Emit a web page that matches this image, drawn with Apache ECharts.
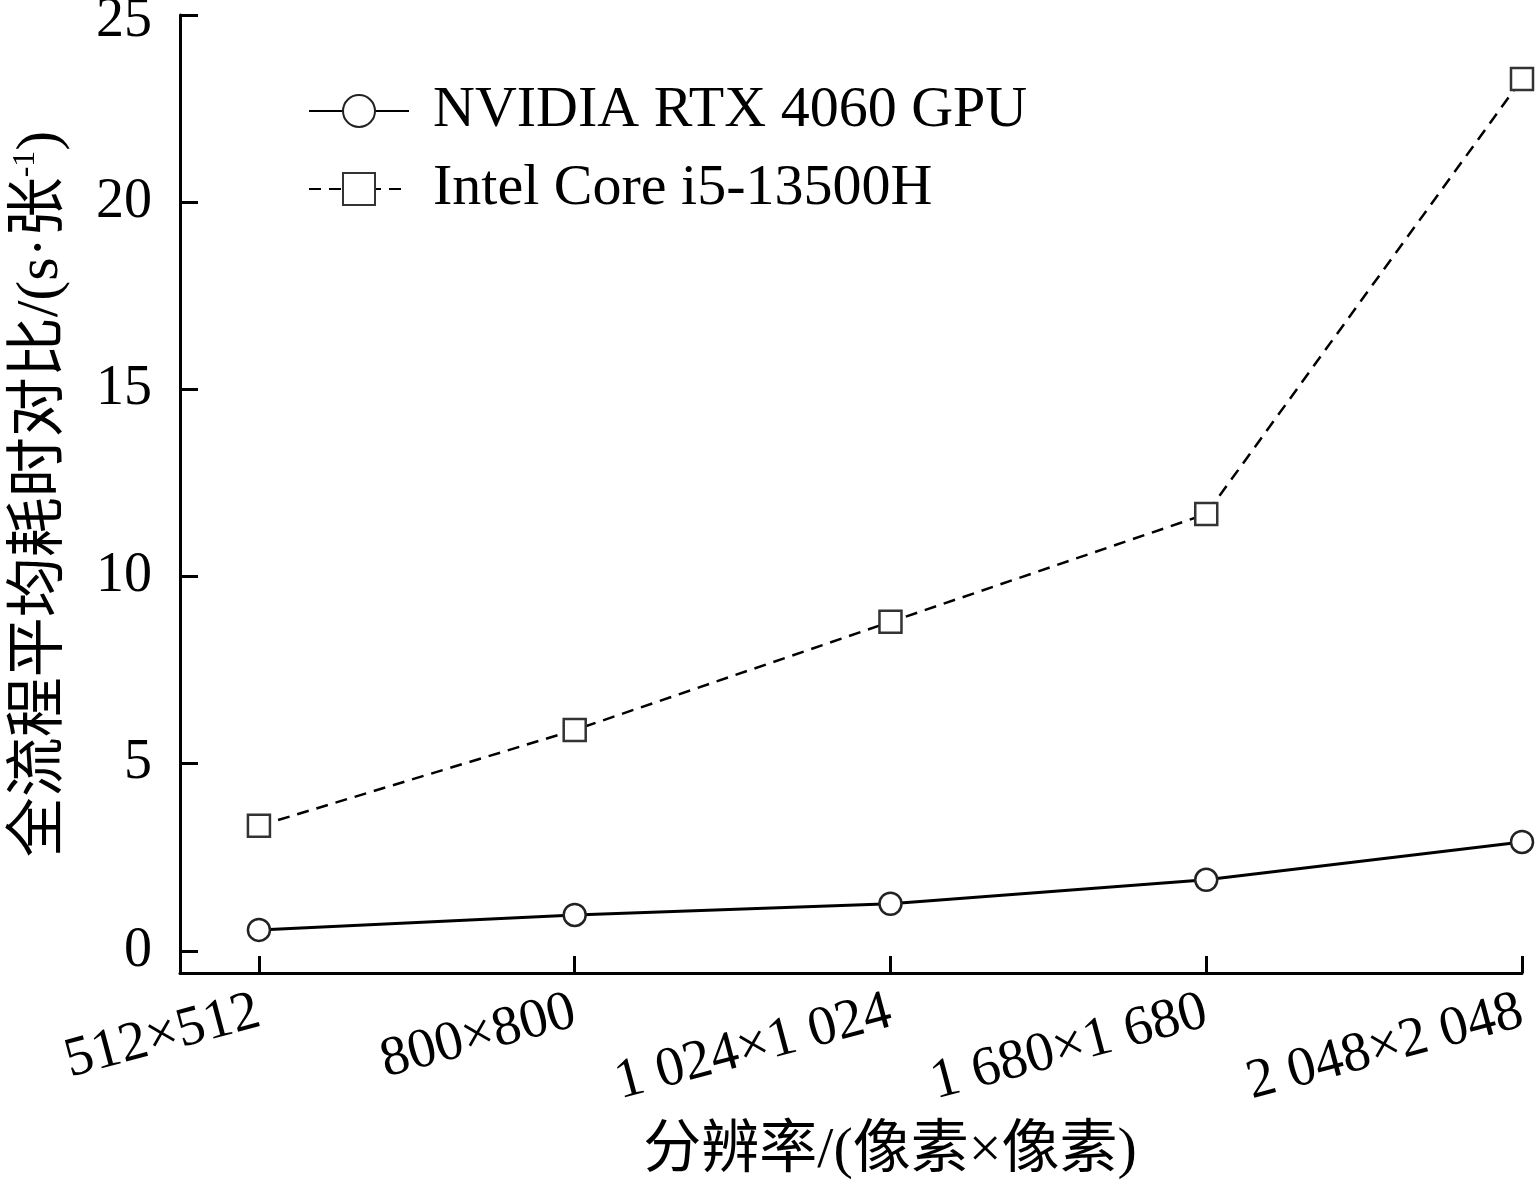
<!DOCTYPE html>
<html>
<head>
<meta charset="utf-8">
<script src="https://cdn.jsdelivr.net/npm/echarts@6/dist/echarts.min.js"></script>
<style>
  html, body { margin: 0; padding: 0; background: #fff; }
  #main { width: 1537px; height: 1194px; }
</style>
</head>
<body>
<div id="main"></div>
<script>
// 分辨率类别
var categories = ['512×512', '800×800', '1 024×1 024', '1 680×1 680', '2 048×2 048'];
// 全流程平均耗时 (s·张-1)
var gpuTime = [0.56, 0.96, 1.26, 1.90, 2.91];
var cpuTime = [3.34, 5.90, 8.79, 11.67, 23.29];
var yTicks = [0, 5, 10, 15, 20, 25];
var xTicks = [0, 1, 2, 3, 4];

var font = "'Liberation Serif', 'Times New Roman', 'Noto Sans CJK SC', serif";

function toPairs(arr) {
    return arr.map(function (v, i) { return [i, v]; });
}

var myChart = echarts.init(document.getElementById('main'));
var option = {
    backgroundColor: '#fff',
    animation: false,
    textStyle: { fontFamily: font, color: '#000' },
    grid: { left: 180, right: 15, top: 15, bottom: 221, containLabel: false, outerBoundsMode: 'none' },
    legend: {
        orient: 'vertical',
        left: 303,
        top: 77,
        itemWidth: 100,
        itemHeight: 40,
        itemGap: 20,
        textStyle: { fontFamily: font, fontSize: 58, color: '#000', lineHeight: 58, padding: [0, 0, 0, 19] },
        data: ['NVIDIA RTX 4060 GPU', 'Intel Core i5-13500H']
    },
    xAxis: {
        type: 'value',
        min: -0.25,
        max: 4,
        name: '分辨率/(像素×像素)',
        nameLocation: 'middle',
        nameGap: 150,
        nameTextStyle: { fontFamily: font, fontSize: 58, color: '#000', padding: [0, 0, 0, 78] },
        axisLine: { onZero: false, lineStyle: { color: '#000', width: 3 } },
        axisTick: { inside: true, length: 17, customValues: xTicks, lineStyle: { color: '#000', width: 3 } },
        axisLabel: {
            customValues: xTicks,
            rotate: 15,
            margin: 38,
            fontSize: 56,
            color: '#000',
            fontFamily: font,
            formatter: function (v) { return categories[v]; }
        },
        splitLine: { show: false }
    },
    yAxis: {
        type: 'value',
        min: -0.59,
        max: 25,
        name: '{a|全流程平均耗时对比/(s·张}{sup|-1}{a|)}',
        nameLocation: 'middle',
        nameRotate: 90,
        nameGap: 108,
        nameTextStyle: {
            rich: {
                a: { fontFamily: font, fontSize: 60, color: '#000', lineHeight: 62 },
                sup: { fontFamily: font, fontSize: 32, color: '#000', verticalAlign: 'top', lineHeight: 62 }
            }
        },
        axisLine: { show: true, onZero: false, lineStyle: { color: '#000', width: 3 } },
        axisTick: { show: true, inside: true, length: 18, customValues: yTicks, lineStyle: { color: '#000', width: 3 } },
        axisLabel: {
            customValues: yTicks,
            margin: 28,
            fontSize: 56,
            color: '#000',
            fontFamily: font,
            // 顶部标签稍微下移，避免被裁掉
            formatter: function (v) { return v === 25 ? '{t|25}' : String(v); },
            rich: {
                t: { fontFamily: font, fontSize: 56, color: '#000', padding: [12, 0, 0, 0] }
            }
        },
        splitLine: { show: false }
    },
    series: [
        {
            name: 'NVIDIA RTX 4060 GPU',
            type: 'line',
            data: toPairs(gpuTime),
            symbol: 'circle',
            symbolSize: 22,
            lineStyle: { color: '#000', width: 3, type: 'solid' },
            itemStyle: { color: '#fff', borderColor: '#222', borderWidth: 2.5 }
        },
        {
            name: 'Intel Core i5-13500H',
            type: 'line',
            data: toPairs(cpuTime),
            symbol: 'rect',
            symbolSize: 22,
            lineStyle: { color: '#000', width: 2.5, type: [12, 8] },
            itemStyle: { color: '#fff', borderColor: '#333', borderWidth: 2.5 }
        }
    ]
};
myChart.setOption(option);
</script>
</body>
</html>
